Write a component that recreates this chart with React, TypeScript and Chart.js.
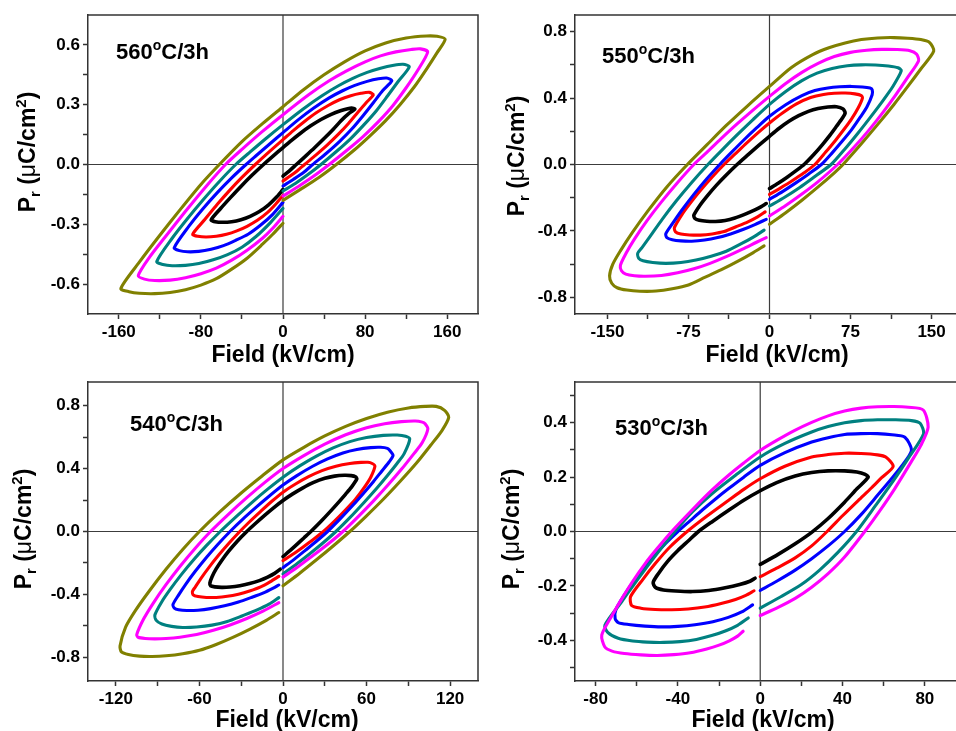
import { useEffect, useRef } from 'react';
import { Chart, registerables } from 'chart.js';

Chart.register(...registerables);

type Pt = [number, number];

const FONT = '"Liberation Sans", Arial, Helvetica, sans-serif';

// Each loop: lower-right branch (from E=0 up to +Emax), upper branch (to -Emax), lower-left branch (back toward E=0)

// ---------- 560 oC / 3h ----------
const loop560Olive: Pt[] = [[0,-0.18],[17,-0.125],[35,-0.065],[52,0],[70,0.075],[85,0.145],[100,0.22],[114,0.3],[128,0.39],[140,0.48],[150,0.56],[158,0.628],
  [150,0.643],[140,0.645],[120,0.635],[100,0.61],[80,0.57],[60,0.515],[40,0.45],[20,0.375],[0,0.29],[-20,0.205],[-40,0.115],[-62,0],[-80,-0.1],[-100,-0.225],[-120,-0.355],[-140,-0.49],[-158,-0.622],
  [-150,-0.638],[-140,-0.646],[-125,-0.648],[-110,-0.642],[-95,-0.628],[-80,-0.605],[-65,-0.573],[-50,-0.525],[-35,-0.47],[-20,-0.4],[-10,-0.35],[0,-0.295]];
const loop560Magenta: Pt[] = [[0,-0.158],[15,-0.11],[30,-0.058],[45,0],[62,0.07],[78,0.14],[93,0.215],[107,0.295],[120,0.385],[131,0.47],[141,0.565],
  [134,0.58],[125,0.577],[110,0.565],[95,0.545],[80,0.515],[62,0.47],[45,0.42],[25,0.35],[0,0.25],[-20,0.166],[-40,0.076],[-56,0],[-75,-0.11],[-95,-0.235],[-115,-0.365],[-130,-0.465],[-141,-0.558],
  [-135,-0.575],[-125,-0.582],[-110,-0.58],[-95,-0.568],[-80,-0.548],[-65,-0.52],[-50,-0.48],[-35,-0.43],[-20,-0.37],[-10,-0.32],[0,-0.26]];
const loop560Teal: Pt[] = [[0,-0.133],[12,-0.095],[24,-0.052],[37,0],[52,0.065],[66,0.13],[79,0.2],[91,0.27],[102,0.345],[112,0.415],[123,0.49],
  [117,0.503],[108,0.498],[95,0.483],[82,0.462],[68,0.432],[54,0.395],[38,0.345],[20,0.28],[0,0.2],[-16,0.133],[-32,0.063],[-46,0],[-62,-0.085],[-78,-0.178],[-94,-0.277],[-108,-0.37],[-123,-0.487],
  [-117,-0.502],[-108,-0.508],[-95,-0.506],[-82,-0.497],[-68,-0.478],[-54,-0.452],[-40,-0.415],[-26,-0.36],[-12,-0.29],[0,-0.22]];
const loop560Blue: Pt[] = [[0,-0.108],[10,-0.075],[20,-0.04],[29,0],[42,0.055],[55,0.115],[67,0.178],[78,0.245],[88,0.31],[97,0.37],[106,0.42],
  [101,0.434],[93,0.43],[82,0.417],[70,0.397],[58,0.37],[45,0.334],[30,0.283],[15,0.225],[0,0.16],[-13,0.103],[-26,0.045],[-36,0],[-50,-0.067],[-64,-0.141],[-78,-0.222],[-92,-0.312],[-106,-0.418],
  [-101,-0.432],[-93,-0.438],[-82,-0.436],[-70,-0.425],[-58,-0.407],[-46,-0.38],[-34,-0.35],[-22,-0.305],[-10,-0.25],[0,-0.19]];
const loop560Red: Pt[] = [[0,-0.083],[7,-0.058],[14,-0.031],[21,0],[32,0.047],[43,0.097],[54,0.152],[64,0.207],[73,0.262],[81,0.31],[88,0.35],
  [84,0.362],[76,0.357],[66,0.345],[55,0.325],[44,0.296],[32,0.258],[20,0.212],[10,0.17],[0,0.125],[-13,0.066],[-27,0],[-40,-0.065],[-52,-0.13],[-64,-0.2],[-76,-0.275],[-88,-0.35],
  [-83,-0.36],[-75,-0.364],[-65,-0.36],[-55,-0.35],[-45,-0.333],[-35,-0.31],[-25,-0.28],[-15,-0.24],[-7,-0.198],[0,-0.155]];
const loop560Black: Pt[] = [[0,-0.058],[6,-0.033],[13,0],[22,0.042],[31,0.085],[40,0.13],[49,0.177],[57,0.222],[64,0.255],[70,0.278],
  [67,0.283],[63,0.28],[56,0.27],[47,0.252],[37,0.226],[27,0.194],[17,0.157],[8,0.12],[0,0.085],[-10,0.041],[-19,0],[-30,-0.053],[-41,-0.11],[-51,-0.165],[-61,-0.222],[-70,-0.278],
  [-66,-0.287],[-59,-0.29],[-50,-0.287],[-41,-0.277],[-32,-0.26],[-23,-0.236],[-14,-0.202],[-6,-0.162],[0,-0.125]];
const xMajor560 = [-160, -80, 0, 80, 160];
const xMinor560 = [-120, -40, 40, 120];
const yMajor560 = [-0.6, -0.3, 0, 0.3, 0.6];
const yMinor560 = [-0.45, -0.15, 0.15, 0.45];

// ---------- 550 oC / 3h ----------
const loop550Olive: Pt[] = [[0,-0.36],[15,-0.29],[30,-0.215],[45,-0.135],[60,-0.05],[68,0],[85,0.125],[100,0.24],[115,0.36],[128,0.47],[140,0.575],[152,0.683],
  [148,0.735],[140,0.752],[128,0.76],[115,0.764],[100,0.762],[85,0.752],[70,0.732],[55,0.703],[40,0.662],[20,0.583],[0,0.47],[-20,0.355],[-40,0.235],[-58,0.118],[-76,0],[-95,-0.135],[-112,-0.275],[-127,-0.41],[-138,-0.52],[-145,-0.6],[-148,-0.67],
  [-146,-0.715],[-141,-0.742],[-132,-0.756],[-120,-0.763],[-105,-0.762],[-90,-0.748],[-75,-0.725],[-60,-0.68],[-45,-0.635],[-30,-0.585],[-15,-0.53],[-5,-0.49]];
const loop550Magenta: Pt[] = [[0,-0.31],[15,-0.247],[30,-0.178],[45,-0.103],[63,0],[78,0.102],[92,0.207],[105,0.314],[117,0.421],[128,0.526],[138,0.625],
  [136,0.665],[130,0.685],[118,0.692],[104,0.693],[90,0.688],[75,0.675],[60,0.65],[45,0.609],[30,0.555],[15,0.488],[0,0.41],[-15,0.329],[-30,0.244],[-45,0.154],[-58,0.073],[-70,0],[-85,-0.108],[-100,-0.225],[-113,-0.335],[-125,-0.449],[-133,-0.537],[-138,-0.607],
  [-137,-0.64],[-133,-0.66],[-125,-0.67],[-115,-0.673],[-100,-0.668],[-85,-0.652],[-70,-0.628],[-55,-0.595],[-40,-0.555],[-25,-0.51],[-12,-0.468],[-3,-0.44]];
const loop550Teal: Pt[] = [[0,-0.25],[14,-0.197],[28,-0.138],[42,-0.072],[57,0],[70,0.095],[82,0.19],[94,0.29],[105,0.385],[114,0.468],[122,0.565],
  [119,0.582],[110,0.593],[98,0.599],[85,0.6],[72,0.594],[58,0.578],[44,0.55],[30,0.505],[15,0.44],[0,0.362],[-15,0.272],[-30,0.178],[-44,0.087],[-57,0],[-72,-0.108],[-86,-0.217],[-99,-0.327],[-110,-0.428],[-118,-0.5],[-122,-0.535],
  [-121,-0.565],[-117,-0.58],[-108,-0.59],[-96,-0.595],[-82,-0.59],[-68,-0.575],[-54,-0.552],[-40,-0.522],[-27,-0.48],[-15,-0.437],[-5,-0.395]];
const loop550Blue: Pt[] = [[0,-0.21],[12,-0.163],[24,-0.112],[36,-0.058],[48,0],[58,0.07],[67,0.138],[76,0.21],[84,0.285],[90,0.345],[95,0.42],
  [95,0.45],[93,0.46],[86,0.467],[76,0.47],[65,0.468],[54,0.461],[42,0.445],[30,0.415],[15,0.36],[0,0.29],[-12,0.22],[-24,0.146],[-35,0.074],[-46,0],[-58,-0.086],[-70,-0.18],[-81,-0.274],[-90,-0.358],[-96,-0.418],
  [-95,-0.44],[-90,-0.453],[-82,-0.46],[-72,-0.462],[-60,-0.455],[-48,-0.44],[-36,-0.418],[-24,-0.39],[-13,-0.36],[-3,-0.33]];
const loop550Red: Pt[] = [[0,-0.18],[10,-0.142],[21,-0.098],[32,-0.05],[42,0],[52,0.075],[61,0.145],[69,0.212],[76,0.275],[82,0.34],[86,0.4],
  [85,0.415],[79,0.425],[70,0.43],[60,0.429],[50,0.422],[38,0.403],[25,0.365],[12,0.31],[0,0.25],[-10,0.195],[-21,0.13],[-32,0.062],[-42,0],[-53,-0.075],[-63,-0.149],[-72,-0.221],[-80,-0.291],[-88,-0.38],
  [-87,-0.405],[-82,-0.418],[-74,-0.424],[-64,-0.425],[-53,-0.418],[-42,-0.404],[-31,-0.375],[-20,-0.345],[-11,-0.315],[-4,-0.285]];
const loop550Black: Pt[] = [[0,-0.145],[8,-0.113],[16,-0.078],[24,-0.04],[32,0],[41,0.06],[49,0.12],[56,0.177],[62,0.23],[67,0.275],[70,0.31],
  [68,0.335],[62,0.348],[54,0.346],[45,0.337],[36,0.32],[27,0.294],[18,0.26],[9,0.218],[0,0.17],[-10,0.115],[-20,0.058],[-30,0],[-40,-0.063],[-49,-0.124],[-57,-0.184],[-64,-0.242],[-70,-0.305],
  [-69,-0.325],[-65,-0.336],[-58,-0.342],[-50,-0.343],[-41,-0.337],[-32,-0.322],[-23,-0.3],[-14,-0.275],[-8,-0.255],[-3,-0.235]];
const xMajor550 = [-150, -75, 0, 75, 150];
const xMinor550 = [-112.5, -37.5, 37.5, 112.5];
const yMajor550 = [-0.8, -0.4, 0, 0.4, 0.8];
const yMinor550 = [-0.6, -0.2, 0.2, 0.6];

// ---------- 540 oC / 3h ----------
const loop540Olive: Pt[] = [[0,-0.345],[12,-0.265],[24,-0.18],[36,-0.092],[48,0],[60,0.1],[72,0.205],[84,0.318],[96,0.437],[106,0.548],[114,0.64],[119,0.726],
  [116,0.77],[110,0.795],[102,0.795],[90,0.785],[75,0.758],[60,0.718],[45,0.668],[30,0.607],[15,0.535],[0,0.455],[-15,0.353],[-30,0.245],[-45,0.128],[-60,0],[-72,-0.114],[-84,-0.24],[-96,-0.378],[-106,-0.503],[-113,-0.608],[-117,-0.728],
  [-116,-0.765],[-111,-0.782],[-103,-0.792],[-94,-0.794],[-84,-0.79],[-72,-0.777],[-60,-0.755],[-48,-0.718],[-36,-0.673],[-24,-0.622],[-12,-0.565],[-3,-0.515]];
const loop540Magenta: Pt[] = [[0,-0.29],[11,-0.222],[22,-0.15],[33,-0.075],[43,0],[54,0.095],[65,0.195],[75,0.292],[85,0.395],[94,0.495],[100,0.565],[104,0.652],
  [102,0.685],[100,0.695],[95,0.702],[85,0.698],[73,0.685],[60,0.66],[45,0.615],[30,0.555],[15,0.4825],[0,0.4],[-13,0.312],[-26,0.215],[-39,0.111],[-52,0],[-63,-0.106],[-74,-0.222],[-84,-0.338],[-93,-0.453],[-100,-0.555],[-105,-0.655],
  [-104,-0.672],[-99,-0.68],[-92,-0.682],[-84,-0.68],[-74,-0.672],[-62,-0.655],[-50,-0.628],[-38,-0.594],[-26,-0.553],[-14,-0.505],[-3,-0.452]];
const loop540Teal: Pt[] = [[0,-0.27],[10,-0.205],[19,-0.143],[28,-0.078],[38,0],[48,0.088],[58,0.183],[67,0.272],[75,0.356],[82,0.434],[87,0.495],[91,0.588],
  [88,0.605],[82,0.613],[72,0.611],[60,0.597],[48,0.571],[36,0.531],[24,0.479],[12,0.417],[0,0.345],[-11,0.269],[-22,0.187],[-33,0.099],[-45,0],[-55,-0.09],[-64,-0.178],[-73,-0.274],[-81,-0.368],[-87,-0.446],[-92,-0.531],
  [-91,-0.565],[-87,-0.588],[-80,-0.603],[-72,-0.61],[-62,-0.607],[-51,-0.595],[-40,-0.572],[-29,-0.535],[-19,-0.5],[-10,-0.462],[-3,-0.42]];
const loop540Blue: Pt[] = [[0,-0.23],[8,-0.177],[16,-0.12],[24,-0.062],[32,0],[41,0.08],[50,0.165],[58,0.245],[65,0.318],[71,0.385],[76,0.44],[79,0.483],
  [77,0.512],[75,0.528],[70,0.535],[63,0.533],[53,0.521],[43,0.499],[32,0.461],[21,0.413],[10,0.355],[0,0.295],[-10,0.224],[-19,0.156],[-29,0.077],[-38,0],[-47,-0.084],[-55,-0.165],[-63,-0.253],[-70,-0.337],[-75,-0.404],[-79,-0.464],
  [-78,-0.487],[-75,-0.497],[-69,-0.502],[-61,-0.5],[-52,-0.49],[-42,-0.472],[-32,-0.448],[-23,-0.42],[-14,-0.39],[-7,-0.36],[-3,-0.34]];
const loop540Red: Pt[] = [[0,-0.185],[7,-0.145],[14,-0.101],[22,-0.049],[29,0],[37,0.066],[45,0.138],[52,0.205],[58,0.275],[63,0.345],[66,0.415],
  [64,0.432],[61,0.44],[56,0.439],[48,0.432],[38,0.415],[28,0.387],[18,0.347],[9,0.302],[0,0.25],[-8,0.192],[-16,0.128],[-24,0.062],[-31,0],[-39,-0.076],[-46,-0.148],[-53,-0.226],[-59,-0.299],[-63,-0.353],[-65,-0.38],
  [-64.5,-0.402],[-61,-0.413],[-55,-0.419],[-48,-0.419],[-40,-0.412],[-32,-0.398],[-24,-0.378],[-16,-0.352],[-9,-0.318],[-3,-0.285]];
const loop540Black: Pt[] = [[0,-0.16],[5,-0.122],[10,-0.082],[15,-0.041],[20,0],[27,0.062],[34,0.128],[40,0.187],[45,0.238],[49,0.28],[53,0.334],
  [52,0.348],[49,0.355],[44,0.357],[37,0.352],[30,0.338],[22,0.312],[14,0.276],[7,0.239],[0,0.197],[-7,0.149],[-13,0.104],[-20,0.049],[-26,0],[-33,-0.063],[-39,-0.125],[-44,-0.184],[-48,-0.238],[-51,-0.289],[-52.5,-0.328],
  [-52,-0.345],[-49,-0.352],[-44,-0.355],[-38,-0.353],[-31,-0.345],[-24,-0.331],[-17,-0.312],[-11,-0.29],[-6,-0.266],[-2,-0.24]];
const xMajor540 = [-120, -60, 0, 60, 120];
const xMinor540 = [-90, -30, 30, 90];
const yMajor540 = [-0.8, -0.4, 0, 0.4, 0.8];
const yMinor540 = [-0.6, -0.2, 0.2, 0.6];

// ---------- 530 oC / 3h ----------
const loop530Magenta: Pt[] = [[0,-0.309],[8.7,-0.279],[17,-0.246],[25,-0.205],[33,-0.155],[41,-0.094],[50.8,0],[58,0.075],[65.4,0.158],[73.5,0.258],[78,0.316],[81.6,0.384],
  [79.2,0.447],[72,0.457],[65,0.46],[57,0.459],[49,0.454],[41,0.443],[33,0.4255],[25,0.4015],[16.8,0.372],[8,0.335],[0,0.298],[-8,0.252],[-15.5,0.206],[-23.5,0.152],[-31.7,0.09],[-43,0],[-50,-0.062],[-56,-0.119],[-62,-0.184],[-67,-0.244],[-72,-0.309],[-77,-0.381],
  [-75.5,-0.425],[-72,-0.44],[-66,-0.449],[-58,-0.454],[-50,-0.456],[-42,-0.453],[-34,-0.446],[-26,-0.432],[-20,-0.418],[-15,-0.402],[-11,-0.385],[-8.3,-0.367]];
const loop530Teal: Pt[] = [[0,-0.282],[10,-0.24],[20,-0.195],[29,-0.141],[38,-0.075],[46.8,0],[56,0.095],[65,0.19],[72,0.27],[79.4,0.36],
  [77.7,0.398],[73.5,0.408],[65,0.411],[57,0.411],[49,0.408],[41,0.4],[33,0.386],[25,0.366],[12,0.324],[0,0.274],[-12,0.207],[-23.6,0.138],[-33,0.072],[-41.5,0],[-50,-0.08],[-59,-0.17],[-67,-0.255],[-75.5,-0.345],
  [-74,-0.372],[-69,-0.393],[-62,-0.403],[-55,-0.407],[-47,-0.408],[-39,-0.405],[-31,-0.397],[-23.6,-0.383],[-17,-0.366],[-11,-0.345],[-5.8,-0.318]];
const loop530Blue: Pt[] = [[0,-0.217],[8,-0.183],[16.8,-0.143],[25,-0.1],[33,-0.053],[41,0],[49,0.062],[57,0.133],[63,0.187],[68.7,0.24],[73.5,0.298],
  [70.3,0.347],[64,0.356],[57,0.36],[49,0.36],[41,0.357],[33,0.345],[25,0.329],[12,0.29],[0,0.243],[-8,0.2],[-15.5,0.157],[-22,0.118],[-28,0.08],[-34,0.04],[-40,0],[-46,-0.044],[-52.8,-0.1],[-58,-0.148],[-64,-0.21],[-70,-0.285],
  [-70.5,-0.32],[-69,-0.335],[-64,-0.342],[-56,-0.348],[-48,-0.351],[-40,-0.349],[-31.7,-0.343],[-23,-0.332],[-15.5,-0.316],[-9,-0.296],[-3.7,-0.27]];
const loop530Red: Pt[] = [[0,-0.166],[8,-0.135],[16.8,-0.098],[25,-0.053],[32.5,0],[40,0.058],[47.6,0.114],[54,0.16],[59,0.198],[64.6,0.239],
  [61,0.274],[57,0.282],[49,0.287],[41,0.288],[33,0.283],[25,0.274],[12,0.24],[0,0.194],[-8,0.155],[-15.5,0.114],[-26,0.056],[-35.5,0],[-44,-0.058],[-51,-0.118],[-57,-0.176],[-63,-0.24],
  [-62.5,-0.272],[-58,-0.282],[-51,-0.287],[-43,-0.288],[-35,-0.285],[-27,-0.278],[-19,-0.265],[-12,-0.25],[-7,-0.235],[-3,-0.218]];
const loop530Black: Pt[] = [[0,-0.121],[8.7,-0.084],[17,-0.045],[25,-0.003],[33,0.048],[41,0.108],[47,0.157],[52.5,0.2],
  [51,0.21],[47,0.219],[41,0.223],[33,0.223],[25,0.217],[17,0.204],[8,0.18],[0,0.15],[-8,0.115],[-15.5,0.077],[-23,0.038],[-30,0],[-35,-0.035],[-40,-0.07],[-45,-0.11],[-49.6,-0.156],[-52,-0.187],
  [-51,-0.205],[-47,-0.215],[-41,-0.219],[-33,-0.221],[-25,-0.217],[-17,-0.207],[-10,-0.195],[-5,-0.183],[-2.5,-0.172]];
const xMajor530 = [-80, -40, 0, 40, 80];
const xMinor530 = [-60, -20, 20, 60];
const yMajor530 = [-0.4, -0.2, 0, 0.2, 0.4];
const yMinor530 = [-0.5, -0.3, -0.1, 0.1, 0.3, 0.5];

const OLIVE = '#808000';
const MAGENTA = '#ff00ff';
const TEAL = '#008080';
const BLUE = '#0000ff';
const RED = '#ff0000';
const BLACK = '#000000';

type PanelCfg = {
  tag: string;
  loops: { data: Pt[]; color: string }[];
  xRange: [number, number];
  yRange: [number, number];
  xMajor: number[]; xMinor: number[]; yMajor: number[]; yMinor: number[];
  box: { left: number; top: number; width: number; height: number };
  yAxisWidth: number; xAxisHeight: number; padTop: number; padRight: number;
  yTitle: { x: number; y: number };
  xTitle: { x: number; y: number };
  tagPos: { x: number; y: number };
};

const PANELS: PanelCfg[] = [
  {
    tag: '560',
    loops: [
      { data: loop560Olive, color: OLIVE }, { data: loop560Magenta, color: MAGENTA }, { data: loop560Teal, color: TEAL },
      { data: loop560Blue, color: BLUE }, { data: loop560Red, color: RED }, { data: loop560Black, color: BLACK },
    ],
    xRange: [-190, 190], yRange: [-0.75, 0.75],
    xMajor: xMajor560, xMinor: xMinor560, yMajor: yMajor560, yMinor: yMinor560,
    box: { left: 0, top: 0, width: 480, height: 372 },
    yAxisWidth: 88, xAxisHeight: 58, padTop: 15, padRight: 2,
    yTitle: { x: 27, y: 152 }, xTitle: { x: 283, y: 362 }, tagPos: { x: 116, y: 59 },
  },
  {
    tag: '550',
    loops: [
      { data: loop550Olive, color: OLIVE }, { data: loop550Magenta, color: MAGENTA }, { data: loop550Teal, color: TEAL },
      { data: loop550Blue, color: BLUE }, { data: loop550Red, color: RED }, { data: loop550Black, color: BLACK },
    ],
    xRange: [-180, 180], yRange: [-0.9, 0.9],
    xMajor: xMajor550, xMinor: xMinor550, yMajor: yMajor550, yMinor: yMinor550,
    box: { left: 478, top: 0, width: 488, height: 372 },
    yAxisWidth: 97, xAxisHeight: 58, padTop: 15, padRight: 2,
    yTitle: { x: 38, y: 156 }, xTitle: { x: 299, y: 362 }, tagPos: { x: 124, y: 63 },
  },
  {
    tag: '540',
    loops: [
      { data: loop540Olive, color: OLIVE }, { data: loop540Magenta, color: MAGENTA }, { data: loop540Teal, color: TEAL },
      { data: loop540Blue, color: BLUE }, { data: loop540Red, color: RED }, { data: loop540Black, color: BLACK },
    ],
    xRange: [-140, 140], yRange: [-0.95, 0.95],
    xMajor: xMajor540, xMinor: xMinor540, yMajor: yMajor540, yMinor: yMinor540,
    box: { left: 0, top: 366, width: 480, height: 365 },
    yAxisWidth: 88, xAxisHeight: 50, padTop: 16, padRight: 2,
    yTitle: { x: 23, y: 163 }, xTitle: { x: 287, y: 361 }, tagPos: { x: 130, y: 65 },
  },
  {
    tag: '530',
    loops: [
      { data: loop530Magenta, color: MAGENTA }, { data: loop530Teal, color: TEAL },
      { data: loop530Blue, color: BLUE }, { data: loop530Red, color: RED }, { data: loop530Black, color: BLACK },
    ],
    xRange: [-90, 100], yRange: [-0.55, 0.55],
    xMajor: xMajor530, xMinor: xMinor530, yMajor: yMajor530, yMinor: yMinor530,
    box: { left: 478, top: 366, width: 490, height: 365 },
    yAxisWidth: 97, xAxisHeight: 50, padTop: 16, padRight: 2,
    yTitle: { x: 33, y: 163 }, xTitle: { x: 285, y: 361 }, tagPos: { x: 137, y: 69 },
  },
];

type Run = { t: string; size: number; dy: number; weight?: string };

function runsWidth(ctx: CanvasRenderingContext2D, runs: Run[]) {
  let w = 0;
  for (const r of runs) {
    ctx.font = `${r.weight || 'bold'} ${r.size}px ${FONT}`;
    w += ctx.measureText(r.t).width;
  }
  return w;
}

function drawRuns(ctx: CanvasRenderingContext2D, runs: Run[], x: number, y: number) {
  let cx = x;
  for (const r of runs) {
    ctx.font = `${r.weight || 'bold'} ${r.size}px ${FONT}`;
    ctx.fillText(r.t, cx, y + r.dy);
    cx += ctx.measureText(r.t).width;
  }
}

function decorPlugin(p: PanelCfg) {
  return {
    id: 'decor',
    beforeDatasetsDraw(chart: any) {
      const { ctx, chartArea, scales } = chart;
      const { left, right, top, bottom } = chartArea;
      const x0 = scales.x.getPixelForValue(0);
      const y0 = scales.y.getPixelForValue(0);
      ctx.save();
      ctx.strokeStyle = '#3c3c3c';
      ctx.lineWidth = 1.2;
      ctx.beginPath();
      ctx.moveTo(x0, top);
      ctx.lineTo(x0, bottom);
      ctx.moveTo(left, y0);
      ctx.lineTo(right, y0);
      ctx.stroke();
      ctx.restore();
    },
    afterDraw(chart: any) {
      const { ctx, chartArea } = chart;
      const { left, right, top, bottom } = chartArea;
      ctx.save();
      ctx.strokeStyle = '#333333';
      ctx.lineWidth = 1.5;
      ctx.beginPath();
      ctx.moveTo(left, top);
      ctx.lineTo(right, top);
      ctx.lineTo(right, bottom);
      ctx.stroke();

      ctx.fillStyle = '#000000';
      ctx.textAlign = 'left';
      ctx.textBaseline = 'alphabetic';

      const tagRuns: Run[] = [
        { t: p.tag, size: 22, dy: 0 },
        { t: 'o', size: 14, dy: -9 },
        { t: 'C/3h', size: 22, dy: 0 },
      ];
      drawRuns(ctx, tagRuns, p.tagPos.x, p.tagPos.y);

      ctx.font = `bold 23px ${FONT}`;
      ctx.textAlign = 'center';
      ctx.fillText('Field (kV/cm)', p.xTitle.x, p.xTitle.y);
      ctx.textAlign = 'left';

      const yRuns: Run[] = [
        { t: 'P', size: 23, dy: 0 },
        { t: 'r', size: 15, dy: 5 },
        { t: ' (', size: 23, dy: 0 },
        { t: 'μ', size: 23, dy: 0, weight: 'normal' },
        { t: 'C/cm', size: 23, dy: 0 },
        { t: '2', size: 15, dy: -9 },
        { t: ')', size: 23, dy: 0 },
      ];
      const w = runsWidth(ctx, yRuns);
      ctx.translate(p.yTitle.x, p.yTitle.y);
      ctx.rotate(-Math.PI / 2);
      drawRuns(ctx, yRuns, -w / 2, 8);
      ctx.restore();
    },
  };
}

function Panel({ cfg }: { cfg: PanelCfg }) {
  const ref = useRef<HTMLCanvasElement | null>(null);
  useEffect(() => {
    const canvas = ref.current;
    if (!canvas) return;
    const xTicks = [...cfg.xMajor, ...cfg.xMinor].sort((a, b) => a - b);
    const yTicks = [...cfg.yMajor, ...cfg.yMinor].sort((a, b) => a - b);
    const chart = new Chart(canvas, {
      type: 'scatter',
      data: {
        datasets: cfg.loops.map((l) => ({
          data: l.data.map(([x, y]) => ({ x, y })),
          showLine: true,
          borderColor: l.color,
          backgroundColor: l.color,
          borderWidth: l.color === BLACK ? 3.6 : 3.1,
          pointRadius: 0,
          tension: 0.25,
          borderCapStyle: 'round',
          borderJoinStyle: 'round',
          fill: false,
        })),
      },
      options: {
        animation: false,
        responsive: false,
        events: [],
        layout: { padding: { top: cfg.padTop, right: cfg.padRight, left: 0, bottom: 0 } },
        plugins: { legend: { display: false }, tooltip: { enabled: false } },
        scales: {
          x: {
            type: 'linear',
            min: cfg.xRange[0],
            max: cfg.xRange[1],
            afterBuildTicks: (scale: any) => {
              scale.ticks = xTicks.map((v) => ({ value: v }));
            },
            afterFit: (scale: any) => {
              scale.height = cfg.xAxisHeight;
            },
            ticks: {
              autoSkip: false,
              maxRotation: 0,
              padding: 3,
              color: '#000',
              font: { family: FONT, size: 17, weight: 'bold' },
              callback: (v: any) => (cfg.xMajor.includes(Number(v)) ? String(v) : ''),
            },
            grid: { display: true, drawOnChartArea: false, drawTicks: true, tickLength: 5, tickColor: '#333', tickWidth: 1.5 },
            border: { display: true, color: '#333', width: 1.5 },
          },
          y: {
            type: 'linear',
            min: cfg.yRange[0],
            max: cfg.yRange[1],
            afterBuildTicks: (scale: any) => {
              scale.ticks = yTicks.map((v) => ({ value: v }));
            },
            afterFit: (scale: any) => {
              scale.width = cfg.yAxisWidth;
            },
            ticks: {
              autoSkip: false,
              padding: 3,
              color: '#000',
              font: { family: FONT, size: 17, weight: 'bold' },
              callback: (v: any) => (cfg.yMajor.includes(Number(v)) ? Number(v).toFixed(1) : ''),
            },
            grid: { display: true, drawOnChartArea: false, drawTicks: true, tickLength: 5, tickColor: '#333', tickWidth: 1.5 },
            border: { display: true, color: '#333', width: 1.5 },
          },
        },
      },
      plugins: [decorPlugin(cfg)],
    } as any);
    return () => chart.destroy();
  }, [cfg]);
  return (
    <canvas
      ref={ref}
      width={cfg.box.width}
      height={cfg.box.height}
      style={{
        position: 'absolute',
        left: cfg.box.left,
        top: cfg.box.top,
        width: cfg.box.width,
        height: cfg.box.height,
      }}
    />
  );
}

export default function App() {
  return (
    <div
      style={{
        position: 'fixed',
        left: 0,
        top: 0,
        width: 956,
        height: 731,
        overflow: 'hidden',
        background: '#ffffff',
      }}
    >
      {PANELS.map((p) => (
        <Panel key={p.tag} cfg={p} />
      ))}
    </div>
  );
}
